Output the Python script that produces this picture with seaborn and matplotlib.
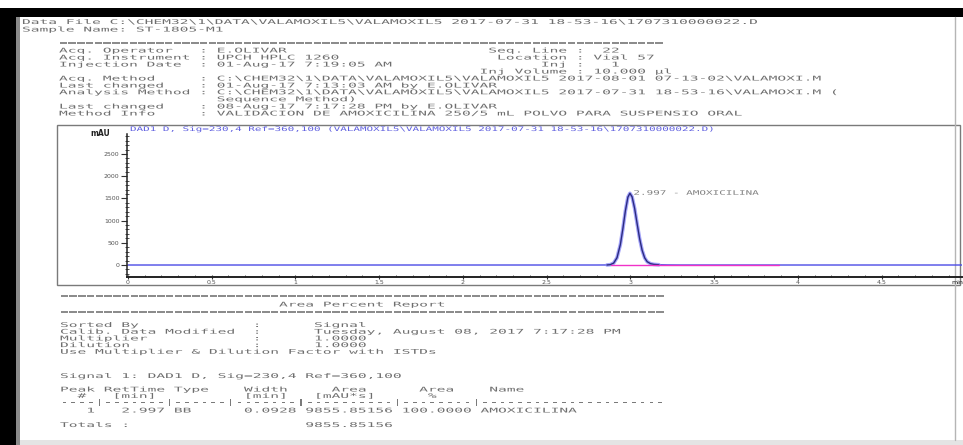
import matplotlib
matplotlib.use("Agg")
import matplotlib.pyplot as plt
import seaborn as sns
import pandas as pd
from matplotlib.patches import Rectangle
from matplotlib.patheffects import AbstractPathEffect
from matplotlib.transforms import Affine2D
from matplotlib.ticker import MultipleLocator, FormatStrFormatter

# ---- signal 1: DAD1 D trace (retention time in min, absorbance in mAU) ----
time_min = [0.0, 1.0, 2.0, 2.80, 2.86, 2.88, 2.90, 2.92, 2.94, 2.955, 2.97,
            2.985, 2.997, 3.01, 3.025, 3.04, 3.055, 3.07, 3.085, 3.10, 3.12,
            3.14, 3.17, 3.22, 3.30, 4.0, 5.0]
signal_mau = [0, 0, 0, 0, 1, 8, 43, 164, 461, 818, 1219,
              1528, 1615, 1536, 1279, 932, 594, 331, 162, 75, 30,
              14, 6, 2, 0, 0, 0]

# integration baseline of the peak
baseline_min = [2.886, 3.886]
baseline_mau = [0, 0]

# peak table
peak_rt = 2.997
peak_type = "BB"
peak_width = 0.0928
peak_area = 9855.85156
peak_pct = 100.0
peak_name = "AMOXICILINA"

y_ticks = [0, 500, 1000, 1500, 2000, 2500]
x_ticks = [0, 0.5, 1, 1.5, 2, 2.5, 3, 3.5, 4, 4.5]

W, H, DPI = 963, 445, 100
MONO = "DejaVu Sans Mono"
MONO_ADV = 0.602          # advance width of DejaVu Sans Mono, in em
GREY = "#6e6e6e"
TXT = 4.7


class Widen(AbstractPathEffect):
    """Draw glyphs stretched horizontally (printer-style wide characters)."""

    def __init__(self, sx):
        super().__init__()
        self.sx = sx

    def draw_path(self, renderer, gc, tpath, affine, rgbFace=None):
        renderer.draw_path(gc, tpath, Affine2D().scale(self.sx, 1.0) + affine, rgbFace)


def widen_for(pitch_px, size_pt):
    natural = MONO_ADV * size_pt * DPI / 72.0
    return [Widen(pitch_px / natural)]


sns.set_style("white")
plt.rcParams["font.family"] = ["DejaVu Sans"]

fig = plt.figure(figsize=(W / DPI, H / DPI), dpi=DPI)
fig.patch.set_facecolor("white")

# page layer in pixel coordinates
page = fig.add_axes([0, 0, 1, 1], zorder=0)
page.set_xlim(0, W)
page.set_ylim(H, 0)
page.axis("off")

# scanner borders
page.add_patch(Rectangle((0, 8), W, 9, color="black", lw=0))
page.add_patch(Rectangle((0, 8), 16, H, color="black", lw=0))
page.add_patch(Rectangle((16, 17), 4, H, color="#8a8a8a", lw=0))
page.add_patch(Rectangle((20, 440), W, 6, color="#e4e4e4", lw=0))
page.plot([955, 955], [17, 440], color="#b5b5b5", lw=1)

# chart frame
page.add_patch(Rectangle((57, 125), 903, 160, fill=False, ec="#7a7a7a", lw=1))


def line(x, y, s, pitch=8.76, size=TXT, color=GREY):
    page.text(x, y, s, ha="left", va="center", fontsize=size, family=MONO,
              color=color, path_effects=widen_for(pitch, size))


sep = "=" * 69
SEP_GREY = "#8c8c8c"

# ---- report header ----
line(22, 22, r"Data File C:\CHEM32\1\DATA\VALAMOXIL5\VALAMOXIL5 2017-07-31 18-53-16\1707310000022.D")
line(22, 29.5, "Sample Name: ST-1805-M1")
line(59, 43, sep, color=SEP_GREY)
header = [
    "Acq. Operator   : E.OLIVAR".ljust(49) + "Seq. Line :  22",
    "Acq. Instrument : UPCH HPLC 1260".ljust(50) + "Location : Vial 57",
    "Injection Date  : 01-Aug-17 7:19:05 AM".ljust(55) + "Inj :   1",
    " " * 48 + "Inj Volume : 10.000 \u00b5l",
    r"Acq. Method     : C:\CHEM32\1\DATA\VALAMOXIL5\VALAMOXIL5 2017-08-01 07-13-02\VALAMOXI.M",
    "Last changed    : 01-Aug-17 7:13:03 AM by E.OLIVAR",
    r"Analysis Method : C:\CHEM32\1\DATA\VALAMOXIL5\VALAMOXIL5 2017-07-31 18-53-16\VALAMOXI.M (",
    "                  Sequence Method)",
    "Last changed    : 08-Aug-17 7:17:28 PM by E.OLIVAR",
    "Method Info     : VALIDACION DE AMOXICILINA 250/5 mL POLVO PARA SUSPENSIO ORAL",
]
for i, s in enumerate(header):
    line(59, 50.5 + 7.0 * i, s)

# ---- area percent report ----
line(60, 296, sep, color=SEP_GREY)
line(60, 304.5, " " * 25 + "Area Percent Report")
line(60, 312, sep, color=SEP_GREY)
report = [
    "Sorted By             :      Signal",
    "Calib. Data Modified  :      Tuesday, August 08, 2017 7:17:28 PM",
    "Multiplier            :      1.0000",
    "Dilution              :      1.0000",
    "Use Multiplier & Dilution Factor with ISTDs",
]
for i, s in enumerate(report):
    line(60, 325 + 6.7 * i, s)

line(60, 376, "Signal 1: DAD1 D, Sig=230,4 Ref=360,100")
line(60, 389.5, "Peak RetTime Type    Width     Area      Area    Name")
line(60, 396.3, "  #   [min]          [min]   [mAU*s]      %")
line(60, 403.0, "----|-------|------|-------|----------|--------|" + "-" * 21,
     size=5.3, color="#7a7a7a")
line(60, 410.5, f"   1   {peak_rt:.3f} {peak_type}      {peak_width:.4f} "
                f"{peak_area:.5f} {peak_pct:8.4f} {peak_name}")
line(60, 425, "Totals :" + " " * 20 + f"{peak_area:.5f}")

# ---- chromatogram ----
ax_l, ax_r, ax_t, ax_b = 127, 962, 134, 277
ax = fig.add_axes([ax_l / W, 1 - ax_b / H, (ax_r - ax_l) / W, (ax_b - ax_t) / H], zorder=2)
ax.patch.set_alpha(0)

trace = pd.DataFrame({"t": time_min, "mau": signal_mau})
peak_part = trace[(trace.t >= 2.86) & (trace.t <= 3.17)]

sns.lineplot(data=trace, x="t", y="mau", ax=ax, color="#4b4be6", lw=1.0,
             estimator=None, sort=False)
sns.lineplot(data=peak_part, x="t", y="mau", ax=ax, color="#8c8cf5", lw=2.6,
             alpha=0.8, estimator=None, sort=False)
sns.lineplot(data=peak_part, x="t", y="mau", ax=ax, color="#2a2a7a", lw=0.9,
             estimator=None, sort=False)
sns.lineplot(x=baseline_min, y=baseline_mau, ax=ax, color="#f032c8", lw=1.0,
             estimator=None, sort=False)

ax.set_xlim(-0.006, 4.98)
ax.set_ylim(-270, 2950)
ax.set_xlabel("")
ax.set_ylabel("")
for side in ("top", "right"):
    ax.spines[side].set_visible(False)
ax.spines["left"].set_color("#222222")
ax.spines["left"].set_linewidth(1.1)
ax.spines["bottom"].set_color("#222222")
ax.spines["bottom"].set_linewidth(1.4)

ax.set_yticks(y_ticks)
ax.yaxis.set_minor_locator(MultipleLocator(100))
ax.set_xticks(x_ticks)
ax.xaxis.set_minor_locator(MultipleLocator(0.1))
ax.xaxis.set_major_formatter(FormatStrFormatter("%g"))
ax.tick_params(axis="y", which="major", direction="out", length=4, width=0.8,
               labelsize=4.5, pad=1.5, labelcolor="#555555", color="#333333", left=True)
ax.tick_params(axis="y", which="minor", direction="inout", length=2.2, width=0.6,
               color="#333333", left=True)
ax.tick_params(axis="x", which="major", direction="inout", length=3.5, width=0.8,
               labelsize=4.5, pad=0.5, labelcolor="#555555", color="#333333", bottom=True)
ax.tick_params(axis="x", which="minor", direction="in", length=1.6, width=0.6,
               color="#333333", bottom=True)

# peak annotation
ax.annotate(f"{peak_rt:.3f} - {peak_name}", xy=(peak_rt, max(signal_mau)),
            xytext=(2.5, 0), textcoords="offset points", ha="left", va="center",
            fontsize=4.5, family=MONO, color="#808080",
            path_effects=widen_for(6.6, 4.5))

# graph captions
line(130, 129.5, r"DAD1 D, Sig=230,4 Ref=360,100 (VALAMOXIL5\VALAMOXIL5 2017-07-31 18-53-16\1707310000022.D)",
     pitch=6.57, size=4.5, color="#6060e0")
page.text(90, 133, "mAU", ha="left", va="center", fontsize=5.5, color="#222222",
          fontweight="bold")
page.text(951, 283, "min", ha="left", va="center", fontsize=4.5, color="#222222")

fig.savefig("out.png", dpi=DPI, facecolor="white")
